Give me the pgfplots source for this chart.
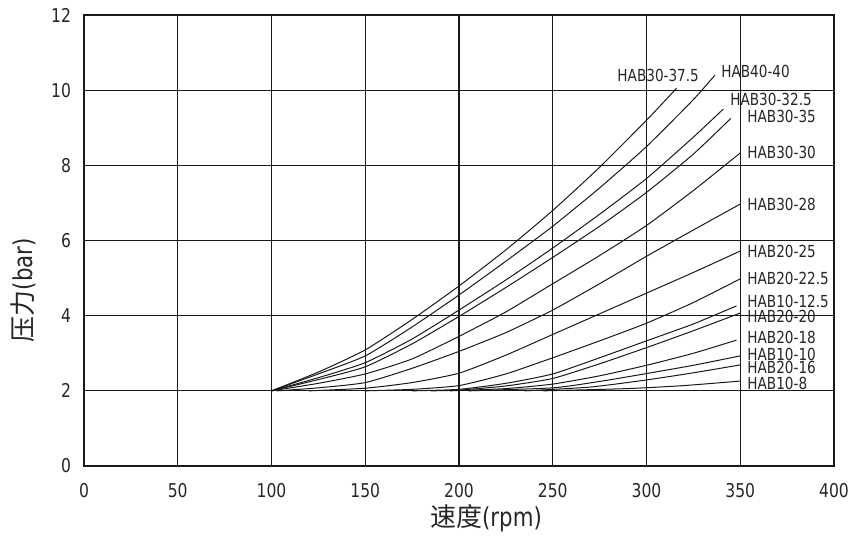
\documentclass[border=0pt]{standalone}
\usepackage{pgfplots}
\pgfplotsset{compat=1.18}
\usepackage{fontspec}
\setmainfont{DejaVu Sans}[FakeStretch=0.82]
\newfontfamily\cjk{Noto Sans CJK SC}
\begin{document}
\begin{tikzpicture}
\path[use as bounding box] (-42pt,-38pt) rectangle (390.5pt,233pt);
\begin{axis}[
  scale only axis, width=375pt, height=225.5pt,
  xmin=0, xmax=400, ymin=0, ymax=12,
  xtick={0,50,...,400}, ytick={0,2,...,12},
  grid=major, major grid style={black!90, line width=0.55pt},
  axis line style={black!90, line width=0.6pt},
  tick style={draw=none},
  /pgf/number format/assume math mode=true,
  ticklabel style={font=\fontsize{9.5}{10}\selectfont, text=black!85},
  xticklabel style={yshift=-5pt},
  yticklabel style={xshift=-3pt},
  clip=false,
  curve/.style={black!90, no markers, line width=0.5pt, smooth, tension=0.35},
]
% HAB30-37.5
\addplot[curve] coordinates {(100,2) (125,2.5) (150,3.09) (175,3.9) (200,4.79) (225,5.75) (250,6.8) (275,7.95) (300,9.2) (316,10.05)};
% HAB40-40
\addplot[curve] coordinates {(100,2) (125,2.45) (150,2.93) (175,3.7) (200,4.55) (225,5.45) (250,6.38) (275,7.4) (300,8.5) (325,9.75) (336.5,10.4)};
% HAB30-32.5
\addplot[curve] coordinates {(100,2) (125,2.35) (150,2.75) (175,3.38) (200,4.15) (225,4.95) (250,5.8) (275,6.7) (300,7.65) (325,8.75) (341,9.5)};
% HAB30-35
\addplot[curve] coordinates {(100,2) (125,2.3) (150,2.64) (175,3.25) (200,3.98) (225,4.75) (250,5.55) (275,6.38) (300,7.28) (325,8.3) (345,9.25)};
% HAB30-30
\addplot[curve] coordinates {(100,2) (125,2.2) (150,2.45) (175,2.85) (200,3.45) (225,4.1) (250,4.85) (275,5.6) (300,6.4) (325,7.33) (350,8.33)};
% HAB30-28
\addplot[curve] coordinates {(103,2) (125,2.08) (150,2.22) (175,2.6) (200,3.05) (225,3.55) (250,4.15) (275,4.85) (300,5.58) (325,6.28) (350,6.97)};
% HAB20-25
\addplot[curve] coordinates {(120,2) (150,2.07) (175,2.22) (200,2.47) (225,2.95) (250,3.5) (275,4.05) (300,4.6) (325,5.15) (350,5.72)};
% HAB20-22.5
\addplot[curve] coordinates {(150,2) (175,2.04) (200,2.14) (225,2.45) (250,2.88) (275,3.33) (300,3.8) (325,4.35) (350,4.98)};
% HAB10-12.5
\addplot[curve] coordinates {(175,2) (200,2.04) (225,2.2) (250,2.45) (275,2.88) (300,3.33) (325,3.78) (348,4.26)};
% HAB20-20
\addplot[curve] coordinates {(185,2) (200,2.02) (225,2.13) (250,2.33) (275,2.72) (300,3.15) (325,3.6) (350,4.07)};
% HAB20-18
\addplot[curve] coordinates {(195,2) (225,2.06) (250,2.18) (275,2.4) (300,2.68) (325,3.0) (348,3.35)};
% HAB10-10
\addplot[curve] coordinates {(205,2) (250,2.08) (275,2.25) (300,2.46) (325,2.68) (350,2.93)};
% HAB20-16
\addplot[curve] coordinates {(235,2) (270,2.1) (300,2.29) (325,2.48) (350,2.69)};
% HAB10-8
\addplot[curve] coordinates {(245,2) (290,2.06) (320,2.14) (350,2.26)};

\begin{scope}[every node/.style={anchor=west, inner sep=0pt, font=\fontsize{8.3}{9}\selectfont, text=black!85}]
\node at (axis cs:284.3,10.40) {HAB30-37.5};
\node at (axis cs:339.7,10.51) {HAB40-40};
\node at (axis cs:344.5,9.74) {HAB30-32.5};
\node at (axis cs:353.6,9.29) {HAB30-35};
\node at (axis cs:353.6,8.33) {HAB30-30};
\node at (axis cs:353.6,6.97) {HAB30-28};
\node at (axis cs:353.6,5.72) {HAB20-25};
\node at (axis cs:353.6,4.98) {HAB20-22.5};
\node at (axis cs:353.6,4.38) {HAB10-12.5};
\node at (axis cs:353.6,3.99) {HAB20-20};
\node at (axis cs:353.6,3.43) {HAB20-18};
\node at (axis cs:353.6,2.98) {HAB10-10};
\node at (axis cs:353.6,2.62) {HAB20-16};
\node at (axis cs:353.6,2.20) {HAB10-8};
\end{scope}
\node[font=\fontsize{13}{14}\selectfont, text=black!85] at (axis cs:214.4,-1.38) {{\cjk 速度}(rpm)};
\node[font=\fontsize{13}{14}\selectfont, text=black!85, rotate=90] at (axis cs:-32.5,4.68) {{\cjk 压力}(bar)};
\end{axis}
\end{tikzpicture}
\end{document}
